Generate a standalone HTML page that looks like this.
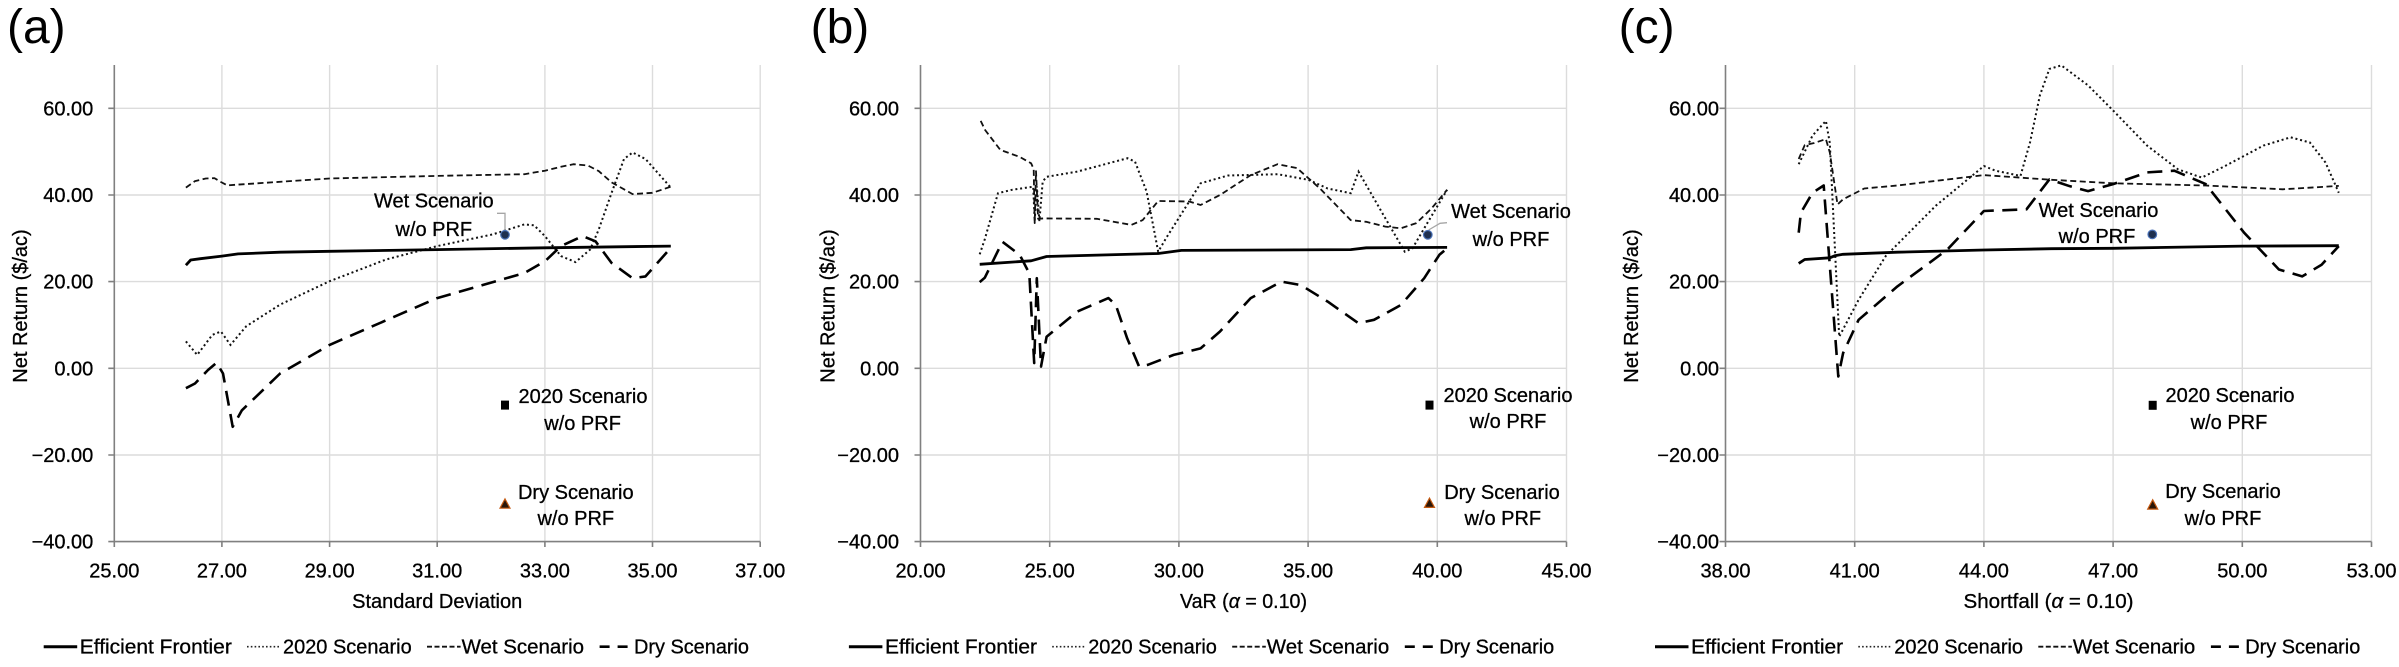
<!DOCTYPE html>
<html>
<head>
<meta charset="utf-8">
<style>
  html, body { margin: 0; padding: 0; background: #ffffff; }
  svg { display: block; }
  text { font-family: "Liberation Sans", Arial, sans-serif; fill: #000; stroke: #000; stroke-width: 0.3; }
  .tk { font-size: 20px; }
  .ttl { font-size: 20px; }
  .lbl { font-size: 20px; }
  .pl { font-size: 48px; fill: #000; stroke-width: 0; }
  .grid { stroke: #dcdcdc; stroke-width: 1.4; fill: none; }
  .axis { stroke: #808080; stroke-width: 1.6; fill: none; }
  .ef { stroke: #000; stroke-width: 2.8; fill: none; stroke-linejoin: round; }
  .s20 { stroke: #111; stroke-width: 2; fill: none; stroke-dasharray: 2 2.8; }
  .wet { stroke: #111; stroke-width: 1.8; fill: none; stroke-dasharray: 6 3.5; stroke-linejoin: round; }
  .dry { stroke: #000; stroke-width: 2.6; fill: none; stroke-dasharray: 15 8.5; stroke-linejoin: round; }
  .lead { stroke: #a6a6a6; stroke-width: 1.3; fill: none; }
</style>
</head>
<body>
<svg width="2399" height="667" viewBox="0 0 2399 667" xmlns="http://www.w3.org/2000/svg">
<rect x="0" y="0" width="2399" height="667" fill="#ffffff"/>

<!-- ================= PANEL A ================= -->
<text class="pl" x="7" y="43">(a)</text>
<g>
  <path class="grid" d="M114.3 108.3H760.2M114.3 195H760.2M114.3 281.6H760.2M114.3 368.3H760.2M114.3 455H760.2
    M221.9 65V541.6M329.6 65V541.6M437.2 65V541.6M544.9 65V541.6M652.5 65V541.6M760.2 65V541.6"/>
  <path class="axis" d="M114.3 65V541.6H760.2
    M108.3 108.3H114.3M108.3 195H114.3M108.3 281.6H114.3M108.3 368.3H114.3M108.3 455H114.3M108.3 541.6H114.3
    M114.3 541.6V547M221.9 541.6V547M329.6 541.6V547M437.2 541.6V547M544.9 541.6V547M652.5 541.6V547M760.2 541.6V547"/>
  <g class="tk" text-anchor="end">
    <text x="93.3" y="115.3">60.00</text>
    <text x="93.3" y="202">40.00</text>
    <text x="93.3" y="288.6">20.00</text>
    <text x="93.3" y="375.3">0.00</text>
    <text x="93.3" y="462">−20.00</text>
    <text x="93.3" y="548.6">−40.00</text>
  </g>
  <g class="tk" text-anchor="middle">
    <text x="114.3" y="577.5">25.00</text>
    <text x="221.9" y="577.5">27.00</text>
    <text x="329.6" y="577.5">29.00</text>
    <text x="437.2" y="577.5">31.00</text>
    <text x="544.9" y="577.5">33.00</text>
    <text x="652.5" y="577.5">35.00</text>
    <text x="760.2" y="577.5">37.00</text>
  </g>
  <text class="ttl" text-anchor="middle" x="437.2" y="608">Standard Deviation</text>
  <text class="ttl" text-anchor="middle" transform="translate(27,306) rotate(-90)">Net Return ($/ac)</text>

  <!-- series -->
  <polyline class="wet" points="185.9,187.6 195,181.1 205.8,178.5 214.4,178.1 220.9,182 227.3,185.4 238.1,184.6 329.6,178.5 437.2,175.9 524.4,174.2 544.9,170.7 561,166.8 573.4,164.2 587.9,165.5 598.7,171.1 611.6,182.4 632.6,194.1 652.5,192.8 670.8,186.7"/>
  <polyline class="s20" points="185.9,341.4 197.2,354.9 212.3,334.9 220.9,331.5 230.5,344.9 246.2,326.3 280.1,304.6 329.6,281.2 386.1,259.5 437.2,246.1 492.7,234.4 524.4,224.4 534.1,225.3 544.9,236.1 561,256.1 575.5,262.1 590.1,249.6 598.7,229.6 611.6,192.8 624,159 632.6,152.5 645.5,159 670.8,187.6"/>
  <polyline class="dry" points="185.9,388.2 195,383.5 208,370 216.6,362.7 223,373.5 232.7,426.8 241.9,410.3 280.1,373.5 329.6,344.9 437.2,298.1 524.4,273 544.9,261.3 561,246.1 582.5,236.1 595.5,241.3 611.6,263 632.6,278.2 645.5,276.4 670.8,247.8"/>
  <polyline class="ef" points="185.9,265.2 190.7,260 200.4,258.7 221.9,256.1 238.1,253.9 280.1,252.2 329.6,251.3 437.2,249.6 544.9,247.8 670.8,246.1"/>

  <!-- markers -->
  <path class="lead" d="M497 213.3H505V229"/>
  <circle cx="505" cy="234.8" r="4.3" fill="#1f3050" stroke="#4a72b8" stroke-width="1.2"/>
  <rect x="501" y="400.6" width="8" height="9" fill="#000"/>
  <polygon points="505,498.9 510,508.2 500,508.2" fill="#2a1608" stroke="#c55a11" stroke-width="1.2"/>

  <g class="lbl" text-anchor="middle">
    <text x="433.8" y="207.5">Wet Scenario</text>
    <text x="433.8" y="236">w/o PRF</text>
    <text x="583" y="403">2020 Scenario</text>
    <text x="582.6" y="430">w/o PRF</text>
    <text x="575.8" y="499">Dry Scenario</text>
    <text x="575.8" y="525">w/o PRF</text>
  </g>
</g>

<!-- legend A -->
<g>
  <line x1="43.7" y1="646.7" x2="77.2" y2="646.7" stroke="#000" stroke-width="3"/>
  <text class="lbl" x="79.8" y="653.5" textLength="152" lengthAdjust="spacingAndGlyphs">Efficient Frontier</text>
  <line x1="247" y1="646.7" x2="280.5" y2="646.7" stroke="#222" stroke-width="1.6" stroke-dasharray="1.6 2.2"/>
  <text class="lbl" x="283" y="653.5" textLength="128.7" lengthAdjust="spacingAndGlyphs">2020 Scenario</text>
  <line x1="427" y1="646.7" x2="460.6" y2="646.7" stroke="#111" stroke-width="1.8" stroke-dasharray="5 2.5"/>
  <text class="lbl" x="461.6" y="653.5" textLength="122.4" lengthAdjust="spacingAndGlyphs">Wet Scenario</text>
  <line x1="599.6" y1="646.7" x2="630.5" y2="646.7" stroke="#000" stroke-width="2.6" stroke-dasharray="10 8"/>
  <text class="lbl" x="634" y="653.5" textLength="115" lengthAdjust="spacingAndGlyphs">Dry Scenario</text>
</g>

<!-- ================= PANEL B ================= -->
<text class="pl" x="810.6" y="43">(b)</text>
<g>
  <path class="grid" d="M920.5 108.3H1566.5M920.5 195H1566.5M920.5 281.6H1566.5M920.5 368.3H1566.5M920.5 455H1566.5
    M1049.7 65V541.6M1178.9 65V541.6M1308.1 65V541.6M1437.3 65V541.6M1566.5 65V541.6"/>
  <path class="axis" d="M920.5 65V541.6H1566.5
    M914.5 108.3H920.5M914.5 195H920.5M914.5 281.6H920.5M914.5 368.3H920.5M914.5 455H920.5M914.5 541.6H920.5
    M920.5 541.6V547M1049.7 541.6V547M1178.9 541.6V547M1308.1 541.6V547M1437.3 541.6V547M1566.5 541.6V547"/>
  <g class="tk" text-anchor="end">
    <text x="899" y="115.3">60.00</text>
    <text x="899" y="202">40.00</text>
    <text x="899" y="288.6">20.00</text>
    <text x="899" y="375.3">0.00</text>
    <text x="899" y="462">−20.00</text>
    <text x="899" y="548.6">−40.00</text>
  </g>
  <g class="tk" text-anchor="middle">
    <text x="920.5" y="577.5">20.00</text>
    <text x="1049.7" y="577.5">25.00</text>
    <text x="1178.9" y="577.5">30.00</text>
    <text x="1308.1" y="577.5">35.00</text>
    <text x="1437.3" y="577.5">40.00</text>
    <text x="1566.5" y="577.5">45.00</text>
  </g>
  <text class="ttl" text-anchor="middle" x="1243.5" y="608" textLength="127" lengthAdjust="spacingAndGlyphs">VaR (<tspan font-style="italic">α</tspan> = 0.10)</text>
  <text class="ttl" text-anchor="middle" transform="translate(834.5,306) rotate(-90)">Net Return ($/ac)</text>

  <polyline class="wet" points="980.7,120.9 985.1,130 1000.3,149.9 1019.7,156.9 1031.1,163.3 1033.7,169 1034.7,223.1 1036,171.1 1038.1,218.8 1043.3,218.4 1096.7,218.8 1131.4,224.9 1142.7,220.1 1158.2,201 1189.2,201.5 1200.6,205 1220,195 1250.7,175.1 1277.6,164.2 1297,168.1 1320,188.5 1350.7,220.1 1366.2,221.8 1385.4,226.6 1400.9,228.3 1416.4,223.1 1431.6,208.4 1447.1,189.8"/>
  <polyline class="s20" points="979.7,254.3 984.8,239.2 998,193.2 1012,189.8 1033.2,186.7 1034.7,221 1036.8,186.3 1039.4,221 1042.7,181.5 1046.6,176.8 1077.3,171.6 1127.5,158.2 1135,161.6 1146.6,191.5 1158.2,251.7 1166,238.3 1189.2,201.5 1200.6,183.3 1228,175.5 1277.6,174.2 1308.4,179.8 1327.7,188.5 1350.7,193.2 1358.5,171.6 1366.2,185 1385.4,218.4 1404.8,251.7 1412.5,248.3 1424.2,228.3 1447.1,189.8"/>
  <polyline class="dry" points="979.7,282.1 984.8,277.7 1002.4,241.8 1019.7,254.8 1029.3,273.4 1034.2,363.1 1036.8,278.2 1041,366.6 1046.6,336.7 1077.3,311.5 1108.4,298.1 1115.8,305 1127.2,338.4 1139.1,366.6 1147.9,364.8 1173.7,354.9 1200.6,348.4 1220,331.5 1250.7,298.1 1281.5,281.6 1300.9,285.1 1327.7,301.6 1358.5,323.2 1374,319.8 1400.9,305 1424.2,278.2 1439.4,254.8 1447.1,248.3"/>
  <polyline class="ef" points="979.7,264.3 1031.1,260.8 1046.6,256.5 1158.2,253.5 1181.5,250.4 1350.7,249.6 1366.2,247.8 1447.1,247.4"/>

  <path class="lead" d="M1428.6 230L1440 223.3L1447 222.7"/>
  <circle cx="1427.8" cy="234.8" r="4.3" fill="#1f3050" stroke="#4a72b8" stroke-width="1.2"/>
  <rect x="1425.5" y="400.6" width="8" height="9" fill="#000"/>
  <polygon points="1429.5,498.1 1434.5,507.4 1424.5,507.4" fill="#2a1608" stroke="#c55a11" stroke-width="1.2"/>

  <g class="lbl" text-anchor="middle">
    <text x="1511" y="218">Wet Scenario</text>
    <text x="1511" y="246">w/o PRF</text>
    <text x="1508" y="402">2020 Scenario</text>
    <text x="1508" y="428">w/o PRF</text>
    <text x="1502" y="499">Dry Scenario</text>
    <text x="1502.8" y="525">w/o PRF</text>
  </g>
</g>

<!-- legend B -->
<g transform="translate(805.2,0)">
  <line x1="43.7" y1="646.7" x2="77.2" y2="646.7" stroke="#000" stroke-width="3"/>
  <text class="lbl" x="79.8" y="653.5" textLength="152" lengthAdjust="spacingAndGlyphs">Efficient Frontier</text>
  <line x1="247" y1="646.7" x2="280.5" y2="646.7" stroke="#222" stroke-width="1.6" stroke-dasharray="1.6 2.2"/>
  <text class="lbl" x="283" y="653.5" textLength="128.7" lengthAdjust="spacingAndGlyphs">2020 Scenario</text>
  <line x1="427" y1="646.7" x2="460.6" y2="646.7" stroke="#111" stroke-width="1.8" stroke-dasharray="5 2.5"/>
  <text class="lbl" x="461.6" y="653.5" textLength="122.4" lengthAdjust="spacingAndGlyphs">Wet Scenario</text>
  <line x1="599.6" y1="646.7" x2="630.5" y2="646.7" stroke="#000" stroke-width="2.6" stroke-dasharray="10 8"/>
  <text class="lbl" x="634" y="653.5" textLength="115" lengthAdjust="spacingAndGlyphs">Dry Scenario</text>
</g>

<!-- ================= PANEL C ================= -->
<text class="pl" x="1618.6" y="43">(c)</text>
<g>
  <path class="grid" d="M1725.5 108.3H2371.5M1725.5 195H2371.5M1725.5 281.6H2371.5M1725.5 368.3H2371.5M1725.5 455H2371.5
    M1854.7 65V541.6M1983.9 65V541.6M2113.1 65V541.6M2242.3 65V541.6M2371.5 65V541.6"/>
  <path class="axis" d="M1725.5 65V541.6H2371.5
    M1719.5 108.3H1725.5M1719.5 195H1725.5M1719.5 281.6H1725.5M1719.5 368.3H1725.5M1719.5 455H1725.5M1719.5 541.6H1725.5
    M1725.5 541.6V547M1854.7 541.6V547M1983.9 541.6V547M2113.1 541.6V547M2242.3 541.6V547M2371.5 541.6V547"/>
  <g class="tk" text-anchor="end">
    <text x="1719" y="115.3">60.00</text>
    <text x="1719" y="202">40.00</text>
    <text x="1719" y="288.6">20.00</text>
    <text x="1719" y="375.3">0.00</text>
    <text x="1719" y="462">−20.00</text>
    <text x="1719" y="548.6">−40.00</text>
  </g>
  <g class="tk" text-anchor="middle">
    <text x="1725.5" y="577.5">38.00</text>
    <text x="1854.7" y="577.5">41.00</text>
    <text x="1983.9" y="577.5">44.00</text>
    <text x="2113.1" y="577.5">47.00</text>
    <text x="2242.3" y="577.5">50.00</text>
    <text x="2371.5" y="577.5">53.00</text>
  </g>
  <text class="ttl" text-anchor="middle" x="2048.5" y="608" textLength="170" lengthAdjust="spacingAndGlyphs">Shortfall (<tspan font-style="italic">α</tspan> = 0.10)</text>
  <text class="ttl" text-anchor="middle" transform="translate(1638,306) rotate(-90)">Net Return ($/ac)</text>

  <polyline class="wet" points="1798.7,159 1804.7,145.2 1814.2,143 1825.9,139.1 1829.8,152.5 1837.5,204.5 1843.1,199.3 1864.2,188.5 1897.4,185.5 1983.9,175.1 2051.5,179.8 2113.1,183.3 2205.7,185.5 2282.8,189.3 2338.8,185.9"/>
  <polyline class="s20" points="1798.7,164.2 1812.5,135.6 1825.9,120.9 1829.8,143 1839.2,336.7 1858.6,299.8 1885.7,256.1 1935.7,205.8 1983.9,166 1995.5,170.7 2020.5,175.9 2030,142.5 2039.9,95.3 2049.4,68.9 2061.4,65.4 2088.1,85.4 2113.1,110.5 2147.1,145.6 2178.1,169.4 2201.8,177.6 2225.1,166 2263.4,145.6 2290.6,137.3 2309.9,142.5 2325.5,162.5 2338.8,192.8"/>
  <polyline class="dry" points="1798.7,232.7 1800.9,212.7 1812.5,192.8 1823.7,185.5 1838.3,376.5 1843.1,353.1 1858.6,319.8 1897.4,286.4 1947.3,249.6 1983.9,211 2026.5,209.3 2049.4,179.4 2070.1,186.3 2088.1,191.1 2113.1,184.1 2147.1,172.4 2174.3,170.7 2205.7,184.1 2244.1,232.7 2278.9,269.5 2302.2,276.4 2321.6,264.7 2338.8,246.1"/>
  <polyline class="ef" points="1798.7,263.4 1804.7,259.5 1829.8,257.8 1835.3,255.6 1843.1,254.3 1897.4,252.2 1983.9,250 2051.5,248.7 2113.1,248.3 2242.3,246.1 2338.8,245.7"/>

  <circle cx="2152.3" cy="234.4" r="4.3" fill="#1f3050" stroke="#4a72b8" stroke-width="1.2"/>
  <rect x="2148.7" y="400.8" width="8" height="9" fill="#000"/>
  <polygon points="2152.7,499.8 2157.7,509.1 2147.7,509.1" fill="#2a1608" stroke="#c55a11" stroke-width="1.2"/>

  <g class="lbl" text-anchor="middle">
    <text x="2098.5" y="217">Wet Scenario</text>
    <text x="2097" y="243">w/o PRF</text>
    <text x="2230" y="402">2020 Scenario</text>
    <text x="2229" y="429">w/o PRF</text>
    <text x="2223" y="498">Dry Scenario</text>
    <text x="2223" y="525">w/o PRF</text>
  </g>
</g>

<!-- legend C -->
<g transform="translate(1611.3,0)">
  <line x1="43.7" y1="646.7" x2="77.2" y2="646.7" stroke="#000" stroke-width="3"/>
  <text class="lbl" x="79.8" y="653.5" textLength="152" lengthAdjust="spacingAndGlyphs">Efficient Frontier</text>
  <line x1="247" y1="646.7" x2="280.5" y2="646.7" stroke="#222" stroke-width="1.6" stroke-dasharray="1.6 2.2"/>
  <text class="lbl" x="283" y="653.5" textLength="128.7" lengthAdjust="spacingAndGlyphs">2020 Scenario</text>
  <line x1="427" y1="646.7" x2="460.6" y2="646.7" stroke="#111" stroke-width="1.8" stroke-dasharray="5 2.5"/>
  <text class="lbl" x="461.6" y="653.5" textLength="122.4" lengthAdjust="spacingAndGlyphs">Wet Scenario</text>
  <line x1="599.6" y1="646.7" x2="630.5" y2="646.7" stroke="#000" stroke-width="2.6" stroke-dasharray="10 8"/>
  <text class="lbl" x="634" y="653.5" textLength="115" lengthAdjust="spacingAndGlyphs">Dry Scenario</text>
</g>

</svg>
</body>
</html>
